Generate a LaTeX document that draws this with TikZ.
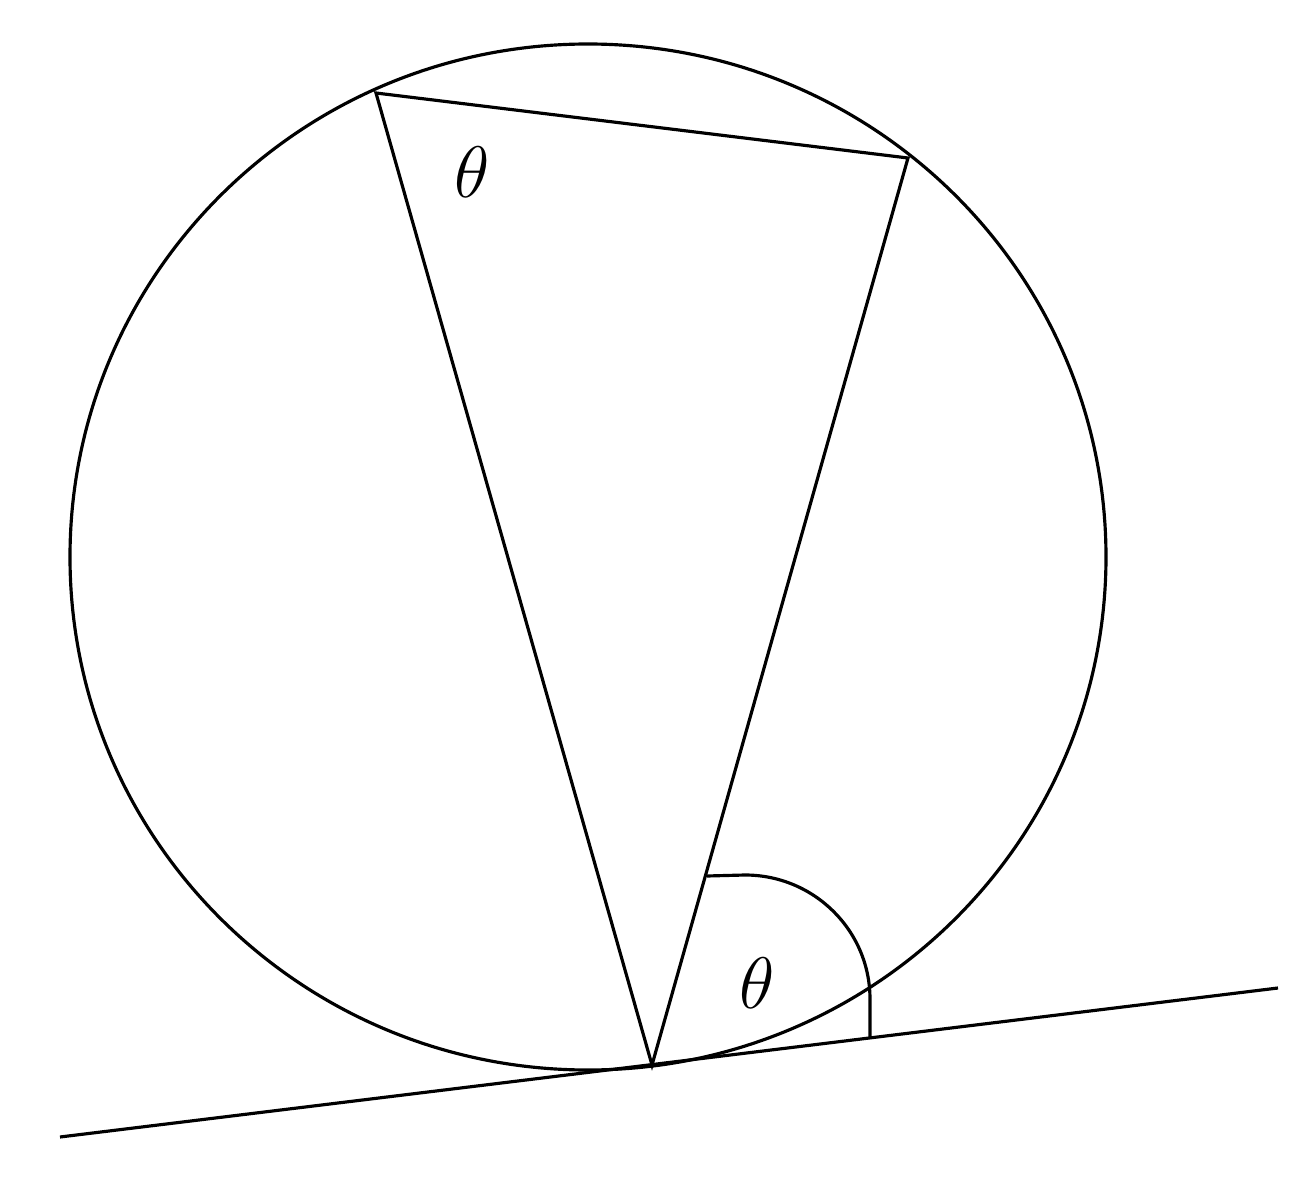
\documentclass[tikz,border=0pt]{standalone}
\begin{document}
\begin{tikzpicture}[x=0.01cm,y=-0.01cm,line width=0.9pt,
  lbl/.style={font=\fontsize{21}{25}\selectfont}]
\useasboundingbox (0,0) rectangle (1314,1200);
\coordinate (O) at (588,557);
\draw (O) ellipse [x radius=518, y radius=-513];
\coordinate (A) at (376,93);
\coordinate (B) at (908,158);
\coordinate (C) at (652,1065);
\coordinate (L1) at (60,1137);
\coordinate (L2) at (1278,988);
\draw (L1) -- (L2);
\draw (A) -- (B) -- (C) -- cycle;
\coordinate (P) at (707,876);
\draw (P) -- (745,875) arc[start angle=90, end angle=0, x radius=125, y radius=-124] -- (870,1037);
\node[lbl] (t1) at (472,172) {$\theta$};
\node[lbl] (t2) at (757,983) {$\theta$};
\end{tikzpicture}
\end{document}
